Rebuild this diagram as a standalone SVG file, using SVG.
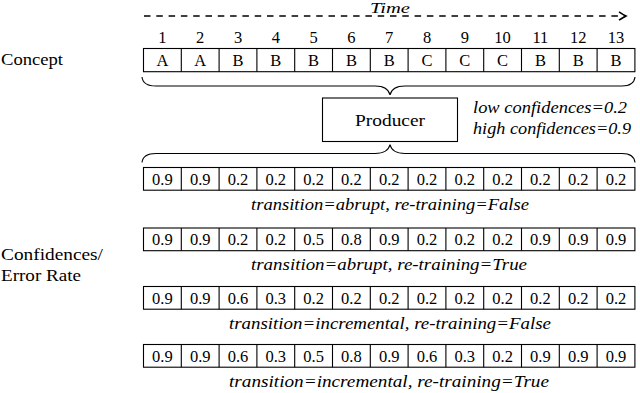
<svg xmlns="http://www.w3.org/2000/svg" width="640" height="393" viewBox="0 0 640 393" font-family="'Liberation Serif', serif">
<style>
text{font-family:"Liberation Serif",serif;fill:#000}
.t{font-size:17px}
.c{font-size:16.5px;text-anchor:middle}
.i{font-size:16.5px;font-style:italic}
.ic{font-size:16.5px;font-style:italic;text-anchor:middle}
.box{fill:#fff;stroke:#000;stroke-width:1.1}
.div{fill:none;stroke:#000;stroke-width:1.1}
.brace{fill:none;stroke:#000;stroke-width:1.1}
</style>
<defs>
<marker id="ah" markerUnits="userSpaceOnUse" markerWidth="12" markerHeight="12" refX="9" refY="6" orient="auto" overflow="visible">
<path d="M2,1.8 Q7,5 9,6 Q7,7 2,10.2" fill="none" stroke="#000" stroke-width="1.6"/>
</marker>
</defs>

<g id="connectors">
<path id="time-arrow" d="M144,16 L626,16" fill="none" stroke="#000" stroke-width="1.6" stroke-dasharray="6.5 5.8" marker-end="url(#ah)"/>
<path id="brace-top" class="brace" d="M142,77 Q143,86 156,86 L375,86 Q388,86 390,95 Q392,86 405,86 L622,86 Q634,86 635,77"/>
<path id="brace-bottom" class="brace" d="M142,162.5 Q143,153.5 156,153.5 L375,153.5 Q388,153.5 390,144.5 Q392,153.5 405,153.5 L622,153.5 Q634,153.5 635,162.5"/>
</g>

<g id="time-label">
<text class="i" x="390" y="12.5" text-anchor="middle" textLength="40" lengthAdjust="spacingAndGlyphs" style="font-size:15px">Time</text>
</g>

<g id="label-concept">
<text class="t" x="1" y="65" textLength="62" lengthAdjust="spacingAndGlyphs">Concept</text>
</g>

<g id="label-confidences">
<text class="t" x="1" y="260" textLength="102" lengthAdjust="spacingAndGlyphs">Confidences/</text>
<text class="t" x="1" y="281" textLength="80" lengthAdjust="spacingAndGlyphs">Error Rate</text>
</g>

<g id="time-steps">
<text class="c" y="43"><tspan x="162.4">1</tspan><tspan x="200.2">2</tspan><tspan x="238">3</tspan><tspan x="275.8">4</tspan><tspan x="313.6">5</tspan><tspan x="351.4">6</tspan><tspan x="389.2">7</tspan><tspan x="427">8</tspan><tspan x="464.8">9</tspan><tspan x="502.6">10</tspan><tspan x="540.4">11</tspan><tspan x="578.2">12</tspan><tspan x="616">13</tspan></text>
</g>

<g id="concept-row">
<rect class="box" x="143.5" y="48.5" width="491.4" height="23.2"/>
<path class="div" d="M181.3,48.5v23.2M219.1,48.5v23.2M256.9,48.5v23.2M294.7,48.5v23.2M332.5,48.5v23.2M370.3,48.5v23.2M408.1,48.5v23.2M445.9,48.5v23.2M483.7,48.5v23.2M521.5,48.5v23.2M559.3,48.5v23.2M597.1,48.5v23.2"/>
<text class="c" y="66"><tspan x="162.4">A</tspan><tspan x="200.2">A</tspan><tspan x="238">B</tspan><tspan x="275.8">B</tspan><tspan x="313.6">B</tspan><tspan x="351.4">B</tspan><tspan x="389.2">B</tspan><tspan x="427">C</tspan><tspan x="464.8">C</tspan><tspan x="502.6">C</tspan><tspan x="540.4">B</tspan><tspan x="578.2">B</tspan><tspan x="616">B</tspan></text>
</g>

<g id="producer">
<rect class="box" x="322.5" y="98" width="135" height="43.5"/>
<text class="t" x="390" y="125.5" text-anchor="middle" textLength="70" lengthAdjust="spacingAndGlyphs">Producer</text>
</g>

<g id="producer-params">
<text class="i" x="473" y="113" textLength="154" lengthAdjust="spacingAndGlyphs">low confidences=0.2</text>
<text class="i" x="473" y="133.5" textLength="158" lengthAdjust="spacingAndGlyphs">high confidences=0.9</text>
</g>

<g id="row-abrupt-false">
<rect class="box" x="143.5" y="167.5" width="491.4" height="22.7"/>
<path class="div" d="M181.3,167.5v22.7M219.1,167.5v22.7M256.9,167.5v22.7M294.7,167.5v22.7M332.5,167.5v22.7M370.3,167.5v22.7M408.1,167.5v22.7M445.9,167.5v22.7M483.7,167.5v22.7M521.5,167.5v22.7M559.3,167.5v22.7M597.1,167.5v22.7"/>
<text class="c" y="184.5"><tspan x="162.4">0.9</tspan><tspan x="200.2">0.9</tspan><tspan x="238">0.2</tspan><tspan x="275.8">0.2</tspan><tspan x="313.6">0.2</tspan><tspan x="351.4">0.2</tspan><tspan x="389.2">0.2</tspan><tspan x="427">0.2</tspan><tspan x="464.8">0.2</tspan><tspan x="502.6">0.2</tspan><tspan x="540.4">0.2</tspan><tspan x="578.2">0.2</tspan><tspan x="616">0.2</tspan></text>
<text class="ic" x="390" y="209.5" textLength="278" lengthAdjust="spacingAndGlyphs">transition=abrupt, re-training=False</text>
</g>

<g id="row-abrupt-true">
<rect class="box" x="143.5" y="228" width="491.4" height="22.7"/>
<path class="div" d="M181.3,228v22.7M219.1,228v22.7M256.9,228v22.7M294.7,228v22.7M332.5,228v22.7M370.3,228v22.7M408.1,228v22.7M445.9,228v22.7M483.7,228v22.7M521.5,228v22.7M559.3,228v22.7M597.1,228v22.7"/>
<text class="c" y="245"><tspan x="162.4">0.9</tspan><tspan x="200.2">0.9</tspan><tspan x="238">0.2</tspan><tspan x="275.8">0.2</tspan><tspan x="313.6">0.5</tspan><tspan x="351.4">0.8</tspan><tspan x="389.2">0.9</tspan><tspan x="427">0.2</tspan><tspan x="464.8">0.2</tspan><tspan x="502.6">0.2</tspan><tspan x="540.4">0.9</tspan><tspan x="578.2">0.9</tspan><tspan x="616">0.9</tspan></text>
<text class="ic" x="389" y="270" textLength="276" lengthAdjust="spacingAndGlyphs">transition=abrupt, re-training=True</text>
</g>

<g id="row-incremental-false">
<rect class="box" x="143.5" y="286.5" width="491.4" height="22.7"/>
<path class="div" d="M181.3,286.5v22.7M219.1,286.5v22.7M256.9,286.5v22.7M294.7,286.5v22.7M332.5,286.5v22.7M370.3,286.5v22.7M408.1,286.5v22.7M445.9,286.5v22.7M483.7,286.5v22.7M521.5,286.5v22.7M559.3,286.5v22.7M597.1,286.5v22.7"/>
<text class="c" y="303.5"><tspan x="162.4">0.9</tspan><tspan x="200.2">0.9</tspan><tspan x="238">0.6</tspan><tspan x="275.8">0.3</tspan><tspan x="313.6">0.2</tspan><tspan x="351.4">0.2</tspan><tspan x="389.2">0.2</tspan><tspan x="427">0.2</tspan><tspan x="464.8">0.2</tspan><tspan x="502.6">0.2</tspan><tspan x="540.4">0.2</tspan><tspan x="578.2">0.2</tspan><tspan x="616">0.2</tspan></text>
<text class="ic" x="390" y="328.5" textLength="322" lengthAdjust="spacingAndGlyphs">transition=incremental, re-training=False</text>
</g>

<g id="row-incremental-true">
<rect class="box" x="143.5" y="344.5" width="491.4" height="22.7"/>
<path class="div" d="M181.3,344.5v22.7M219.1,344.5v22.7M256.9,344.5v22.7M294.7,344.5v22.7M332.5,344.5v22.7M370.3,344.5v22.7M408.1,344.5v22.7M445.9,344.5v22.7M483.7,344.5v22.7M521.5,344.5v22.7M559.3,344.5v22.7M597.1,344.5v22.7"/>
<text class="c" y="361.5"><tspan x="162.4">0.9</tspan><tspan x="200.2">0.9</tspan><tspan x="238">0.6</tspan><tspan x="275.8">0.3</tspan><tspan x="313.6">0.5</tspan><tspan x="351.4">0.8</tspan><tspan x="389.2">0.9</tspan><tspan x="427">0.6</tspan><tspan x="464.8">0.3</tspan><tspan x="502.6">0.2</tspan><tspan x="540.4">0.9</tspan><tspan x="578.2">0.9</tspan><tspan x="616">0.9</tspan></text>
<text class="ic" x="389" y="386.5" textLength="320" lengthAdjust="spacingAndGlyphs">transition=incremental, re-training=True</text>
</g>
</svg>
